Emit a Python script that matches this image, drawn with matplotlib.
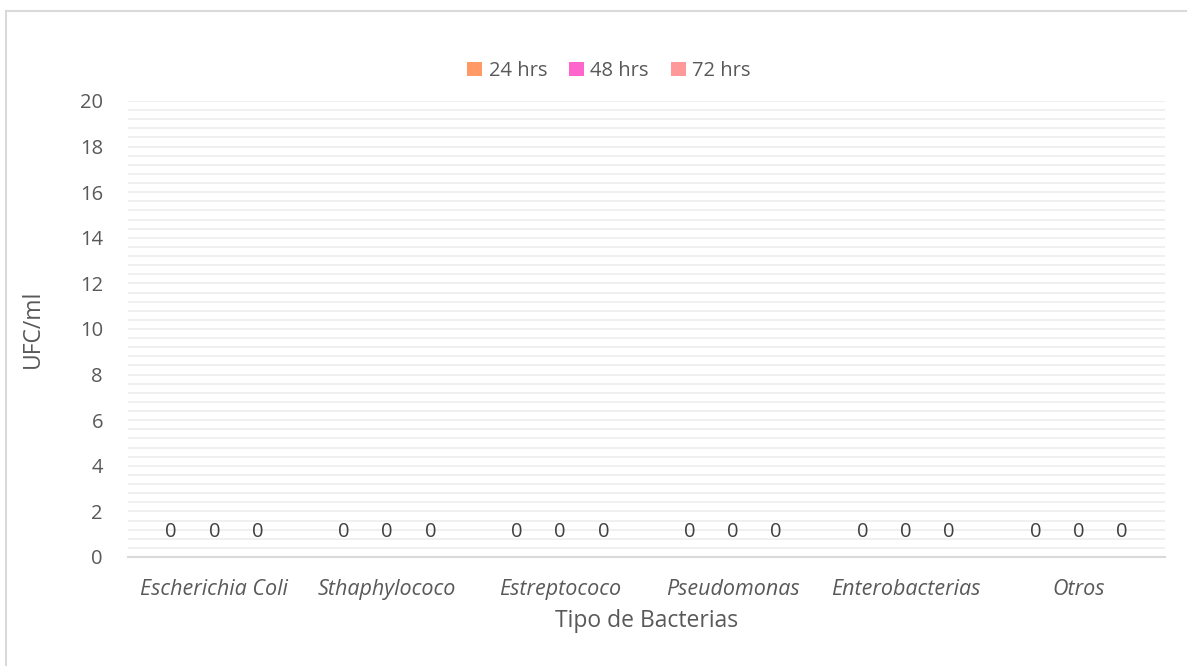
import matplotlib
matplotlib.use("Agg")
import matplotlib.pyplot as plt
from matplotlib.patches import Rectangle
from matplotlib.ticker import MultipleLocator
import numpy as np

plt.rcParams["font.family"] = ["Open Sans", "DejaVu Sans"]

bacterias = ["Escherichia Coli", "Sthaphylococo", "Estreptococo",
             "Pseudomonas", "Enterobacterias", "Otros"]
series = ["24 hrs", "48 hrs", "72 hrs"]
ufc_24 = [0, 0, 0, 0, 0, 0]
ufc_48 = [0, 0, 0, 0, 0, 0]
ufc_72 = [0, 0, 0, 0, 0, 0]
colors = ["#FF9966", "#FF66CC", "#FF9999"]

text_gray = "#595959"
grid_gray = "#efefef"

fig = plt.figure(figsize=(11.87, 6.66), dpi=100)
ax = fig.add_axes([128 / 1187, 1 - 557 / 666, (1165 - 128) / 1187, (557 - 101) / 666])

# chart area border (runs off the right and bottom edges)
fig.patches.append(Rectangle((6 / 1187, -0.1), 1.2, 1 - 11 / 666 + 0.1,
                             transform=fig.transFigure, fill=False,
                             edgecolor="#d9d9d9", linewidth=1.5, zorder=0))

x = np.arange(len(bacterias))
width = 0.25
for i, (name, vals) in enumerate(zip(series, [ufc_24, ufc_48, ufc_72])):
    bars = ax.bar(x + (i - 1) * width, vals, width, color=colors[i], label=name, zorder=3)
    ax.bar_label(bars, padding=11, fontsize=14.5, color="#404040")

ax.set_xlim(-0.5, len(bacterias) - 0.5)
ax.set_ylim(0, 20)
ax.yaxis.set_major_locator(MultipleLocator(2))
ax.yaxis.set_minor_locator(MultipleLocator(0.4))
ax.grid(axis="y", which="both", color=grid_gray, linewidth=1.3, zorder=0)
ax.set_axisbelow(True)

for side in ["top", "right", "left"]:
    ax.spines[side].set_visible(False)
ax.spines["bottom"].set_color("#d9d9d9")
ax.spines["bottom"].set_linewidth(1.5)
ax.spines["bottom"].set_zorder(4)

ax.set_xticks(x)
ax.set_xticklabels(bacterias, style="italic", fontsize=15.5)
ax.tick_params(axis="both", which="both", length=0, labelcolor=text_gray)
ax.tick_params(axis="y", labelsize=14.5, pad=18)
ax.tick_params(axis="x", pad=16)

ax.set_xlabel("Tipo de Bacterias", fontsize=16.5, color=text_gray, va="center")
ax.set_ylabel("UFC/ml", fontsize=16.5, color=text_gray, va="center")
ax.xaxis.set_label_coords(0.5, (557 - 621) / 456)
ax.yaxis.set_label_coords((33 - 128) / 1037, 0.5)

fig.legend(loc="center", bbox_to_anchor=(609 / 1187, 1 - 71 / 666), ncol=3,
           frameon=False, fontsize=14.5, handlelength=0.75, handleheight=0.75,
           handletextpad=0.3, columnspacing=1.1, labelcolor=text_gray)

fig.savefig("out.png", dpi=100)
